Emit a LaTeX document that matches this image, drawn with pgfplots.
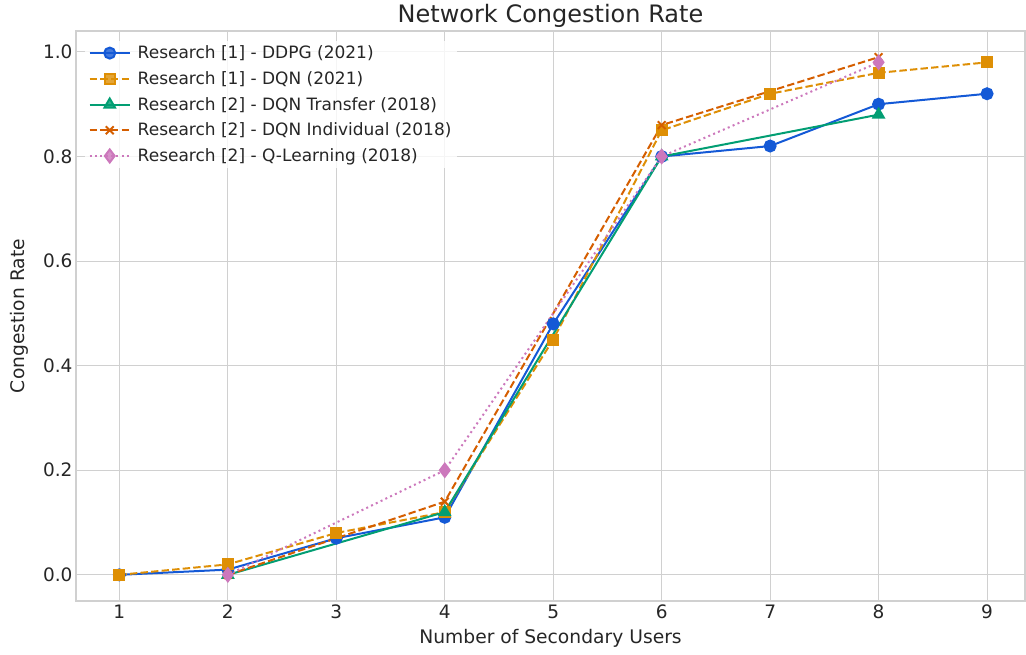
\documentclass[border=0pt]{standalone}
\usepackage{pgfplots}
\pgfplotsset{compat=1.18}
\usepackage{fontspec}
\setmainfont{DejaVu Sans}

\definecolor{cblue}{HTML}{1459D6}
\definecolor{corange}{HTML}{DE8F05}
\definecolor{cgreen}{HTML}{029E73}
\definecolor{cverm}{HTML}{D55E00}
\definecolor{cpink}{HTML}{CC78BC}
\definecolor{gridgray}{HTML}{D0D0D0}
\definecolor{txt}{HTML}{262626}

\begin{document}
\begin{tikzpicture}[x=1pt,y=1pt]
\useasboundingbox (0,0) rectangle (1026,655);
\begin{axis}[
  at={(76pt,54pt)}, anchor=south west,
  scale only axis,
  width=949pt, height=570pt,
  xmin=0.6, xmax=9.35,
  ymin=-0.05, ymax=1.04,
  xtick={1,...,9},
  ytick={0,0.2,0.4,0.6,0.8,1.0},
  y tick label style={/pgf/number format/fixed, /pgf/number format/fixed zerofill, /pgf/number format/precision=1},
  /pgf/number format/assume math mode=true,
  tick label style={font=\fontsize{18.5}{22}\selectfont, text=txt},
  major tick length=0pt,
  grid=major,
  grid style={gridgray, line width=1.1pt},
  axis line style={gridgray, line width=1.3pt},
  title={Network Congestion Rate},
  title style={font=\fontsize{24}{28}\selectfont, text=txt, yshift=-6pt},
  xlabel={Number of Secondary Users},
  ylabel={Congestion Rate},
  label style={font=\fontsize{18.7}{22}\selectfont, text=txt},
  xlabel style={yshift=-4pt},
  ylabel style={yshift=8pt},
  legend cell align=left,
  legend style={at={(0.009,0.983)}, anchor=north west, draw=none,
    fill=white, fill opacity=0.8, text opacity=1,
    font=\fontsize{17}{20}\selectfont, text=txt,
    row sep=7.3pt, inner xsep=4pt, inner ysep=3pt},
  legend image code/.code={
    \draw[mark repeat=2,mark phase=2] plot coordinates {(0pt,0pt) (20pt,0pt) (40pt,0pt)};},
  legend style={/tikz/every odd column/.append style={column sep=5pt}},
  every axis plot/.append style={line width=2pt},
]
% Research [1] - DDPG
\addplot[cblue, solid, mark=*, mark size=5.5pt, mark options={solid}]
  coordinates {(1,0) (2,0.01) (3,0.07) (4,0.11) (5,0.48) (6,0.80) (7,0.82) (8,0.90) (9,0.92)};
\addlegendentry{Research [1] - DDPG (2021)}
% Research [1] - DQN
\addplot[corange, dash pattern=on 7.4pt off 3.2pt, mark=square*, mark size=5pt, mark options={solid}]
  coordinates {(1,0) (2,0.02) (3,0.08) (4,0.12) (5,0.45) (6,0.85) (7,0.92) (8,0.96) (9,0.98)};
\addlegendentry{Research [1] - DQN (2021)}
% Research [2] - DQN Transfer
\addplot[cgreen, solid, mark=triangle*, mark size=6pt, mark options={solid}]
  coordinates {(2,0) (4,0.12) (6,0.80) (8,0.88)};
\addlegendentry{Research [2] - DQN Transfer (2018)}
% Research [2] - DQN Individual
\addplot[cverm, dash pattern=on 7.4pt off 3.2pt, mark=x, mark size=5.5pt, mark options={solid}]
  coordinates {(2,0) (4,0.14) (6,0.86) (8,0.99)};
\addlegendentry{Research [2] - DQN Individual (2018)}
% Research [2] - Q-Learning
\addplot[cpink, dash pattern=on 2pt off 3.3pt, mark=diamond*, mark size=6.5pt, mark options={solid}]
  coordinates {(2,0) (4,0.20) (6,0.80) (8,0.98)};
\addlegendentry{Research [2] - Q-Learning (2018)}
\end{axis}
\end{tikzpicture}
\end{document}
